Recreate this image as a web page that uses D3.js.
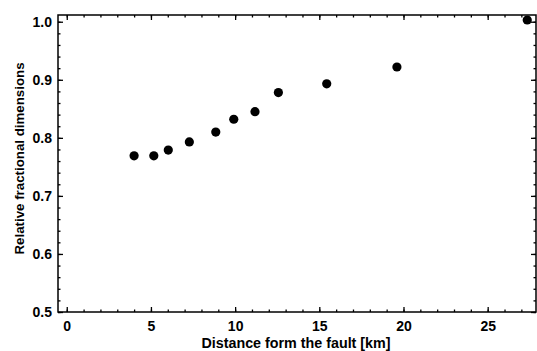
<!DOCTYPE html>
<html><head><meta charset="utf-8">
<script src="https://cdn.jsdelivr.net/npm/d3@7"></script>
<style>body{margin:0;background:#fff}svg{display:block}text{font-family:"Liberation Sans",Arial,sans-serif;font-weight:bold;fill:#000}</style>
</head><body>
<script>
const distance = [4.0, 5.17, 6.03, 7.28, 8.85, 9.92, 11.18, 12.57, 15.44, 19.61, 27.35];
const relDim = [0.769, 0.769, 0.779, 0.793, 0.810, 0.832, 0.845, 0.878, 0.893, 0.922, 1.003];
const xTicks = [0, 5, 10, 15, 20, 25];
const yTicks = [0.5, 0.6, 0.7, 0.8, 0.9, 1.0];
const xTitle = "Distance form the fault [km]";
const yTitle = "Relative fractional dimensions";

const W = 537, H = 351;
const m = {l: 58, r: 1, t: 15, b: 39};
const svg = d3.select("body").append("svg").attr("width", W).attr("height", H);
const x = d3.scaleLinear().domain([-0.52, 27.87]).range([m.l, W - m.r]);
const y = d3.scaleLinear().domain([0.5, 1.0116]).range([H - m.b, m.t]);

const xMinor = d3.range(0, 28, 1);
const yMinor = d3.range(0.5, 1.011, 0.02);

function ticks(axisGen, tr) {
  const g = svg.append("g").attr("transform", tr).call(axisGen);
  g.select(".domain").remove();
  g.selectAll("line").attr("stroke", "#000").attr("stroke-width", 1.3);
  return g;
}
ticks(d3.axisBottom(x).tickValues(xMinor).tickSize(-2.5).tickFormat(""), `translate(0,${H-m.b})`);
ticks(d3.axisTop(x).tickValues(xMinor).tickSize(-2.5).tickFormat(""), `translate(0,${m.t})`);
ticks(d3.axisLeft(y).tickValues(yMinor).tickSize(-2.5).tickFormat(""), `translate(${m.l},0)`);
ticks(d3.axisRight(y).tickValues(yMinor).tickSize(-2.5).tickFormat(""), `translate(${W-m.r},0)`);
const gx = ticks(d3.axisBottom(x).tickValues(xTicks).tickSize(-5).tickPadding(9).tickFormat(d3.format("d")), `translate(0,${H-m.b})`);
gx.selectAll("text").attr("font-size", 14).style("font-family", "'Liberation Sans',Arial,sans-serif").style("font-weight", "bold");
ticks(d3.axisTop(x).tickValues(xTicks).tickSize(-5).tickFormat(""), `translate(0,${m.t})`);
const gy = ticks(d3.axisLeft(y).tickValues(yTicks).tickSize(-5).tickPadding(6).tickFormat(d3.format(".1f")), `translate(${m.l},0)`);
gy.selectAll("text").attr("font-size", 14).style("font-family", "'Liberation Sans',Arial,sans-serif").style("font-weight", "bold");
ticks(d3.axisRight(y).tickValues(yTicks).tickSize(-5).tickFormat(""), `translate(${W-m.r},0)`);

svg.append("rect").attr("x", m.l).attr("y", m.t).attr("width", W - m.r - m.l).attr("height", H - m.b - m.t)
  .attr("fill", "none").attr("stroke", "#000").attr("stroke-width", 1.5);

svg.append("g").selectAll("circle").data(distance).join("circle")
  .attr("cx", d => x(d)).attr("cy", (d, i) => y(relDim[i])).attr("r", 4.6).attr("fill", "#000");

svg.append("text").attr("x", 296).attr("y", 348).attr("text-anchor", "middle")
  .attr("font-size", 14.3).text(xTitle);
svg.append("text").attr("transform", `translate(23.5,158.5) rotate(-90)`).attr("text-anchor", "middle")
  .attr("font-size", 13.3).text(yTitle);
</script>
</body></html>
